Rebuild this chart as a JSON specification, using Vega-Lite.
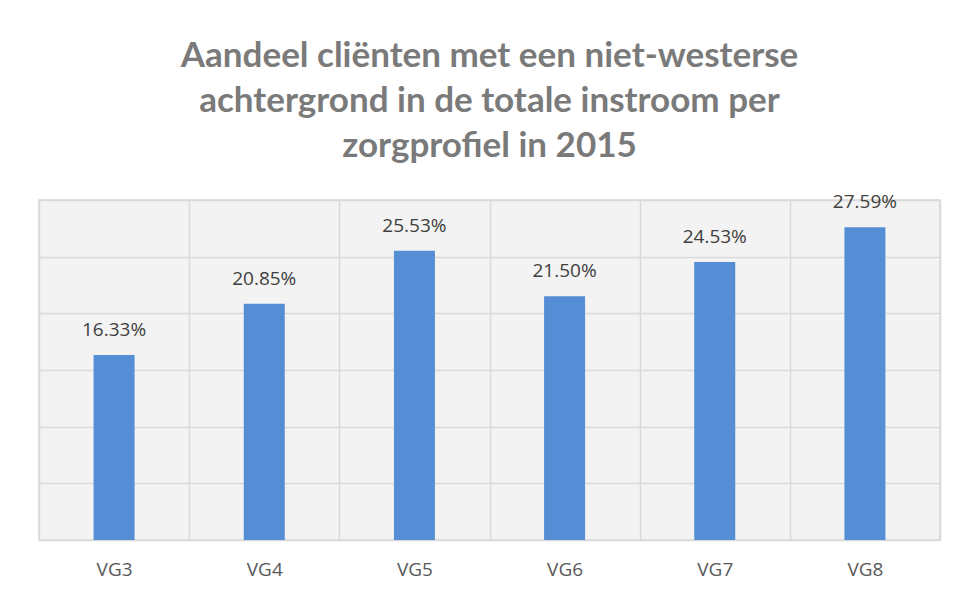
{
  "$schema": "https://vega.github.io/schema/vega-lite/v6.json",
  "autosize": "none",
  "width": 901,
  "height": 340,
  "padding": {"left": 39, "top": 200, "right": 16, "bottom": 55},
  "background": "white",
  "title": {
    "text": ["Aandeel cliënten met een niet-westerse", "achtergrond in de totale instroom per", "zorgprofiel in 2015"],
    "font": "Lato",
    "fontSize": 35,
    "fontWeight": "bold",
    "color": "#7a7a7a",
    "lineHeight": 45,
    "anchor": "middle",
    "offset": 29
  },
  "data": {
    "values": [
      {"profiel": "VG3", "aandeel": 0.1633},
      {"profiel": "VG4", "aandeel": 0.2085},
      {"profiel": "VG5", "aandeel": 0.2553},
      {"profiel": "VG6", "aandeel": 0.2150},
      {"profiel": "VG7", "aandeel": 0.2453},
      {"profiel": "VG8", "aandeel": 0.2759}
    ]
  },
  "encoding": {
    "x": {
      "field": "profiel",
      "type": "nominal",
      "sort": null,
      "scale": {"paddingInner": 0, "paddingOuter": 0},
      "axis": {
        "title": null,
        "labelAngle": 0,
        "labelFont": "Open Sans",
        "labelFontSize": 19,
        "labelColor": "#595959",
        "labelPadding": 20,
        "ticks": false,
        "domain": false,
        "grid": true,
        "tickBand": "extent",
        "gridColor": "#d9d9d9",
        "gridWidth": 1.5
      }
    },
    "y": {
      "field": "aandeel",
      "type": "quantitative",
      "scale": {"domain": [0, 0.3]},
      "axis": {
        "title": null,
        "labels": false,
        "ticks": false,
        "domain": false,
        "grid": true,
        "values": [0, 0.05, 0.1, 0.15, 0.2, 0.25, 0.3],
        "gridColor": "#d9d9d9",
        "gridWidth": 1.5
      }
    }
  },
  "layer": [
    {
      "mark": {"type": "bar", "color": "#558ed5", "width": {"band": 0.273}}
    },
    {
      "mark": {"type": "text", "dy": -25, "font": "Open Sans", "fontSize": 19, "color": "#404040"},
      "encoding": {
        "text": {"field": "aandeel", "type": "quantitative", "format": ".2%"}
      }
    }
  ],
  "config": {
    "view": {"fill": "#f3f3f3", "stroke": "#d9d9d9", "strokeWidth": 1.5}
  }
}
